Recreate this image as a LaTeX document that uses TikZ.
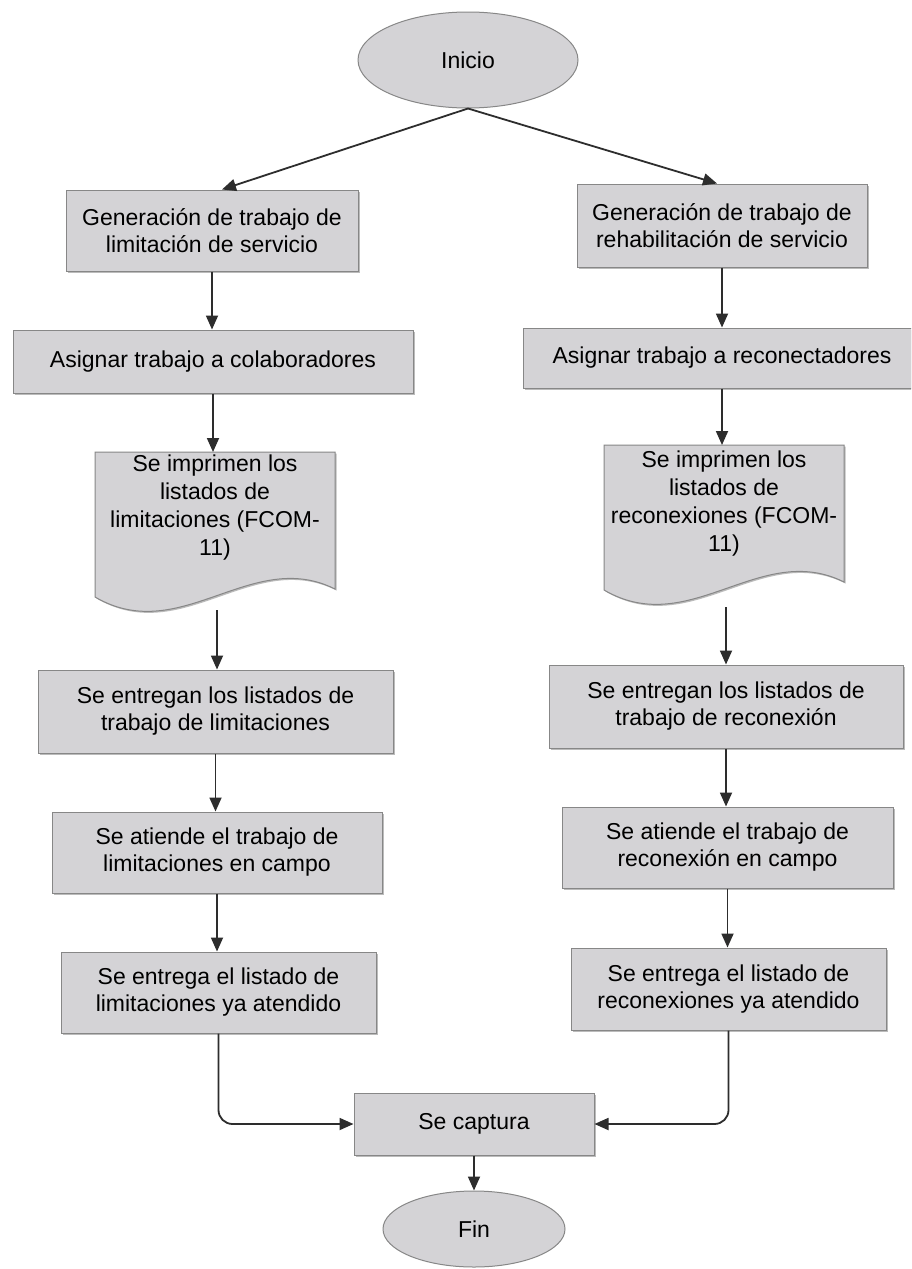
\documentclass[tikz,border=0pt]{standalone}
\usepackage{fontspec}
\setmainfont{Liberation Sans}
\usetikzlibrary{arrows.meta,shadows,shapes.geometric,calc}
\definecolor{boxfill}{RGB}{212,211,214}
\definecolor{boxedge}{RGB}{135,135,135}
\definecolor{linecol}{RGB}{45,45,45}
\begin{document}
\begin{tikzpicture}[x=1pt,y=-1pt,
  shad/.style={drop shadow={shadow xshift=1.5pt,shadow yshift=-1.5pt,fill=gray!75,opacity=.7}},
  proc/.style={rectangle,draw=boxedge,line width=1pt,fill=boxfill,inner sep=0pt,align=center,
    font=\fontsize{23}{27}\selectfont,shad},
  term/.style={ellipse,draw=boxedge,line width=1pt,fill=boxfill,inner sep=0pt,
    font=\fontsize{23}{27}\selectfont},
  doctext/.style={inner sep=0pt,align=center,font=\fontsize{23}{28}\selectfont},
  docshape/.style={draw=boxedge,line width=1pt,fill=boxfill,shad},
  arr/.style={draw=linecol,line width=1.8pt,-{Triangle[width=12pt,length=14pt]}},
]
\useasboundingbox (0,0) rectangle (911,1269);
\fill[white] (0,0) rectangle (911,1269);
\clip (0,0) rectangle (911,1269);

% start / end
\node[term,minimum width=220pt,minimum height=96pt] (ini) at (468,60) {Inicio};
\node[proc,minimum width=240pt,minimum height=62pt] (cap) at (474,1124) {Se captura};
\node[term,minimum width=182pt,minimum height=76pt] (fin) at (474,1229) {Fin};

% left column
\node[proc,minimum width=292pt,minimum height=81pt] (L1) at (212,230.5) {Generación de trabajo de\\limitación de servicio};
\node[proc,minimum width=400pt,minimum height=63pt] (L2) at (213,361.5) {Asignar trabajo a colaboradores};
\path[docshape] (95,452) -- (335,452) -- (335,589) .. controls (251,547) and (181,647) .. (95,597) -- cycle;
\node[doctext] (L3) at (215,508) {Se imprimen los\\listados de\\limitaciones (FCOM-\\11)};
\coordinate (L3top) at (215,452);
\coordinate (L3out) at (217,610);
\node[proc,minimum width=355pt,minimum height=83pt] (L4) at (215.5,711.5) {Se entregan los listados de\\trabajo de limitaciones};
\node[proc,minimum width=330pt,minimum height=81pt] (L5) at (217,852.5) {Se atiende el trabajo de\\limitaciones en campo};
\node[proc,minimum width=315pt,minimum height=81pt] (L6) at (218.5,992.5) {Se entrega el listado de\\limitaciones ya atendido};

% right column
\node[proc,minimum width=290pt,minimum height=83pt] (R1) at (722,225.5) {Generación de trabajo de\\rehabilitación de servicio};
\node[proc,minimum width=398pt,minimum height=60pt] (R2) at (722,358) {Asignar trabajo a reconectadores};
\path[docshape] (604,445) -- (844,445) -- (844,582) .. controls (760,540) and (690,640) .. (604,590) -- cycle;
\node[doctext] (R3) at (724,504) {Se imprimen los\\listados de\\reconexiones (FCOM-\\11)};
\coordinate (R3top) at (724,445);
\coordinate (R3out) at (726,607);
\node[proc,minimum width=354pt,minimum height=83pt] (R4) at (726,706.5) {Se entregan los listados de\\trabajo de reconexión};
\node[proc,minimum width=331pt,minimum height=81pt] (R5) at (727.5,847.5) {Se atiende el trabajo de\\reconexión en campo};
\node[proc,minimum width=315pt,minimum height=82pt] (R6) at (728.5,989) {Se entrega el listado de\\reconexiones ya atendido};

% connectors
\draw[arr] (ini.south) -- ([xshift=10pt]L1.north);
\draw[arr] (ini.south) -- ([xshift=-5pt]R1.north);
\draw[arr] (L1.south) -- (L1.south |- L2.north);
\draw[arr] (L2.south) -- (L2.south |- L3top);
\draw[arr] (L3out) -- (L3out |- L4.north);
\draw[arr] (L4.south) -- (L4.south |- L5.north);
\draw[arr] (L5.south) -- (L5.south |- L6.north);
\draw[arr,rounded corners=14pt] (L6.south) |- (cap.west);
\draw[arr] (R1.south) -- (R1.south |- R2.north);
\draw[arr] (R2.south) -- (R2.south |- R3top);
\draw[arr] (R3out) -- (R3out |- R4.north);
\draw[arr] (R4.south) -- (R4.south |- R5.north);
\draw[arr] (R5.south) -- (R5.south |- R6.north);
\draw[arr,rounded corners=14pt] (R6.south) |- (cap.east);
\draw[arr] (cap.south) -- (fin.north);
\end{tikzpicture}
\end{document}
